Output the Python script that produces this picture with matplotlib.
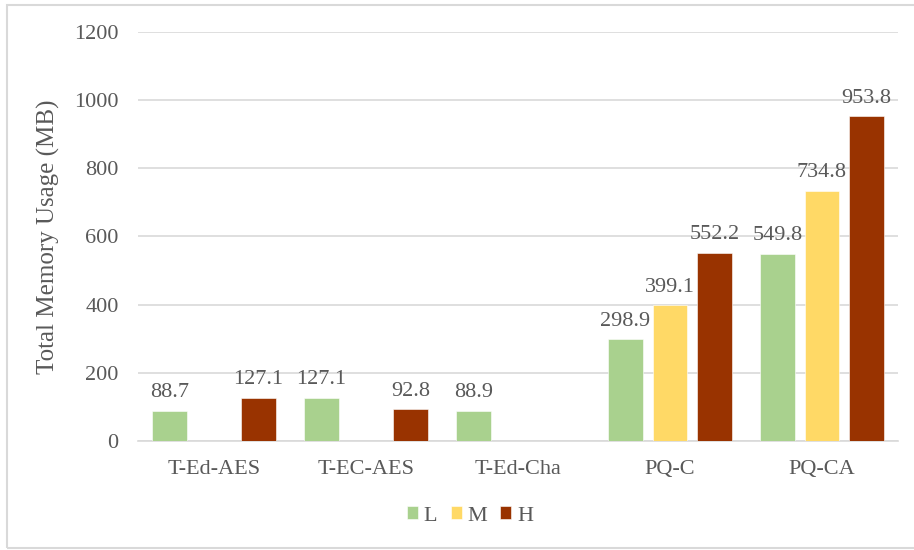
import numpy as np
import matplotlib
matplotlib.use("Agg")
import matplotlib.pyplot as plt
from matplotlib.patches import Rectangle

plt.rcParams["font.family"] = ["Liberation Serif", "DejaVu Serif"]

categories = ["T-Ed-AES", "T-EC-AES", "T-Ed-Cha", "PQ-C", "PQ-CA"]
series_names = ["L", "M", "H"]
values_L = [88.7, 127.1, 88.9, 298.9, 549.8]
values_M = [np.nan, np.nan, np.nan, 399.1, 734.8]
values_H = [127.1, 92.8, np.nan, 552.2, 953.8]
colors = ["#A9D18E", "#FFD966", "#993300"]
y_ticks = [0, 200, 400, 600, 800, 1000, 1200]

text_color = "#595959"
grid_color = "#D9D9D9"
fs = 16

fig = plt.figure(figsize=(9.14, 5.5), dpi=100)
ax = fig.add_axes([138 / 914, 1 - 441 / 550, 760 / 914, 409 / 550])

x = np.arange(len(categories))
width = 0.23
step = 0.293
for i, (name, vals, col) in enumerate(zip(series_names, [values_L, values_M, values_H], colors)):
    pos = x + (i - 1) * step
    ax.bar(pos, vals, width=width, color=col, label=name,
           edgecolor="white", linewidth=0.4, zorder=3)
    for xp, v in zip(pos, vals):
        if not np.isnan(v):
            ax.annotate(f"{v:.1f}", (xp, v), xytext=(0, 6), textcoords="offset points",
                        ha="center", va="bottom", fontsize=fs, color=text_color)

ax.set_ylim(0, 1200)
ax.set_xlim(-0.5, len(categories) - 0.5)
ax.set_yticks(y_ticks)
ax.set_xticks(x)
ax.set_xticklabels(categories)
ax.tick_params(axis="both", length=0, labelsize=fs, colors=text_color)
ax.tick_params(axis="y", pad=14)
ax.tick_params(axis="x", pad=14)
ax.yaxis.grid(True, color=grid_color, linewidth=1.2, zorder=0)
ax.set_axisbelow(True)
for s in ["top", "right", "left"]:
    ax.spines[s].set_visible(False)
ax.spines["bottom"].set_color(grid_color)
ax.spines["bottom"].set_linewidth(1.2)

ax.set_ylabel("Total Memory Usage (MB)", fontsize=18, color=text_color, labelpad=10)

leg = fig.legend(loc="center", bbox_to_anchor=(470 / 914, 1 - 516 / 550), ncol=3, frameon=False,
                 fontsize=fs, handlelength=0.5, handleheight=0.5, handletextpad=0.25,
                 columnspacing=0.6)
for t in leg.get_texts():
    t.set_color(text_color)

# chart frame
fig.patches.append(Rectangle((7 / 914, 2 / 550), 1.2, 1 - 7 / 550, transform=fig.transFigure,
                             fill=False, edgecolor="#D9D9D9", linewidth=1.5))

fig.savefig("out.png", dpi=100)
